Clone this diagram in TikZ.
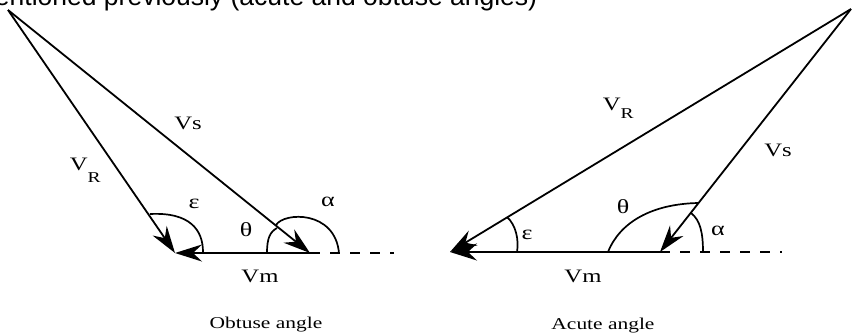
\documentclass[tikz,border=0pt]{standalone}
\usepackage{fontspec}
\setmainfont{Liberation Serif}
\newfontfamily\labfont[FakeStretch=1.3]{Liberation Serif}
\newfontfamily\headfont{Liberation Sans}
\usetikzlibrary{arrows.meta}

\begin{document}
\begin{tikzpicture}[
    x=1pt, y=-1pt,
    line width=1.8pt,
    lab/.style={inner sep=0pt, font=\labfont\fontsize{19}{22}\selectfont},
    gr/.style={inner sep=0pt, font=\labfont\fontsize{20}{23}\selectfont},
    capt/.style={anchor=base, inner sep=0pt, font=\labfont\fontsize{16.5}{19}\selectfont},
    ext/.style={dash pattern=on 10pt off 10pt},
    ang/.style={line width=1.7pt},
    >={Stealth[length=27pt, width=17pt, inset=9pt]}
]
    \clip (0,0) rectangle (852,333);

    \node[anchor=base west, inner sep=0pt, font=\headfont\fontsize{26.5}{30}\selectfont]
        (head) at (-28,5) {mentioned previously (acute and obtuse angles)};

    \coordinate (topL) at (8,10);
    \coordinate (rL)   at (175,253);
    \coordinate (sL)   at (310,253);
    \coordinate (dL)   at (394,253);
    \draw[->] (topL) -- (rL);
    \draw[->] (topL) -- (sL);
    \draw[->] (sL) -- (rL);
    \draw[ext] (sL) -- (dL);
    \draw[ang] (150,214) .. controls (190,212) and (203,230) .. (203,252);
    \draw[ang] (267,253) .. controls (267,238) and (270,232) .. (277,228);
    \draw[ang] (276,225) .. controls (284,212) and (335,210) .. (339,253);

    \node[lab] (vsL) at (188,123) {Vs};
    \node[lab, anchor=base west] (vrL) at (69,170) {V\raisebox{-12pt}{\fontsize{15}{15}\selectfont R}};
    \node[gr] (epsL) at (194,204) {ε};
    \node[gr] (thL)  at (246,230) {θ};
    \node[gr] (alL)  at (328,202) {α};
    \node[lab] (vmL) at (260,276) {Vm};
    \node[capt] (capL) at (266,328) {Obtuse angle};

    \coordinate (topR) at (851,9);
    \coordinate (rR)   at (450,252);
    \coordinate (sR)   at (660,252);
    \coordinate (dR)   at (782,252);
    \draw[->] (topR) -- (rR);
    \draw[->] (topR) -- (sR);
    \draw[->] (sR) -- (rR);
    \draw[ext] (sR) -- (dR);
    \draw[ang] (507,217) .. controls (516,225) and (519,240) .. (517,252);
    \draw[ang] (608,252) .. controls (620,222) and (652,204) .. (698,203);
    \draw[ang] (691,213) .. controls (700,220) and (703,232) .. (703,252);

    \node[lab, anchor=base west] (vrR) at (602,110) {V\raisebox{-8pt}{\fontsize{15}{15}\selectfont R}};
    \node[lab] (vsR) at (778,150) {Vs};
    \node[gr] (epsR) at (527,235) {ε};
    \node[gr] (thR)  at (623,207) {θ};
    \node[gr] (alR)  at (718,231) {α};
    \node[lab] (vmR) at (583,276) {Vm};
    \node[capt] (capR) at (603,329) {Acute angle};
\end{tikzpicture}
\end{document}
